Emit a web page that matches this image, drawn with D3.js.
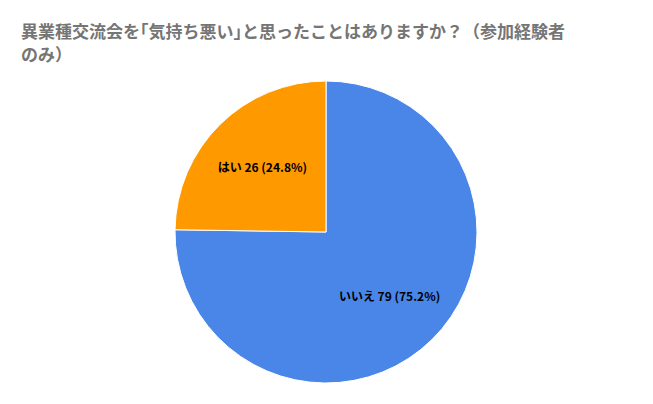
<!DOCTYPE html>
<html><head><meta charset="utf-8">
<script src="https://cdn.jsdelivr.net/npm/d3@7"></script>
<style>body{margin:0;background:#fff}</style>
</head><body>
<svg id="chart" width="653" height="404"></svg>
<script>
// データ
const labels = ["いいえ", "はい"]
const counts = [79, 26]
const colors = ["#4a86e8", "#ff9900"]
const titleLines = ["異業種交流会を｢気持ち悪い｣と思ったことはありますか？（参加経験者", "のみ）"]

const svg = d3.select("#chart")
const cx = 326, cy = 232, r = 151

svg.selectAll("text.title").data(titleLines).enter().append("text")
    .attr("x", 21).attr("y", (d, i) => 38 + i * 23)
    .attr("font-family", "'Noto Sans CJK JP', sans-serif")
    .attr("font-size", 17).attr("font-weight", "bold").attr("fill", "#757575")
    .text(d => d)

const total = d3.sum(counts)
const pie = d3.pie().sort(null)(counts)
const arc = d3.arc().innerRadius(0).outerRadius(r)
const labelArc = d3.arc().innerRadius(r * 0.6).outerRadius(r * 0.6)

const g = svg.append("g").attr("transform", `translate(${cx},${cy})`)
g.selectAll("path").data(pie).enter().append("path")
    .attr("d", arc).attr("fill", (d, i) => colors[i])
    .attr("stroke", "#fff").attr("stroke-width", 1)

g.selectAll("text").data(pie).enter().append("text")
    .attr("transform", d => `translate(${labelArc.centroid(d)})`)
    .attr("text-anchor", "middle").attr("dy", "0.35em")
    .attr("font-family", "'Noto Sans CJK JP', sans-serif")
    .attr("font-size", 12).attr("font-weight", "bold").attr("fill", "#000")
    .text((d, i) => `${labels[i]} ${counts[i]} (${(counts[i] / total * 100).toFixed(1)}%)`)
</script>
</body></html>
